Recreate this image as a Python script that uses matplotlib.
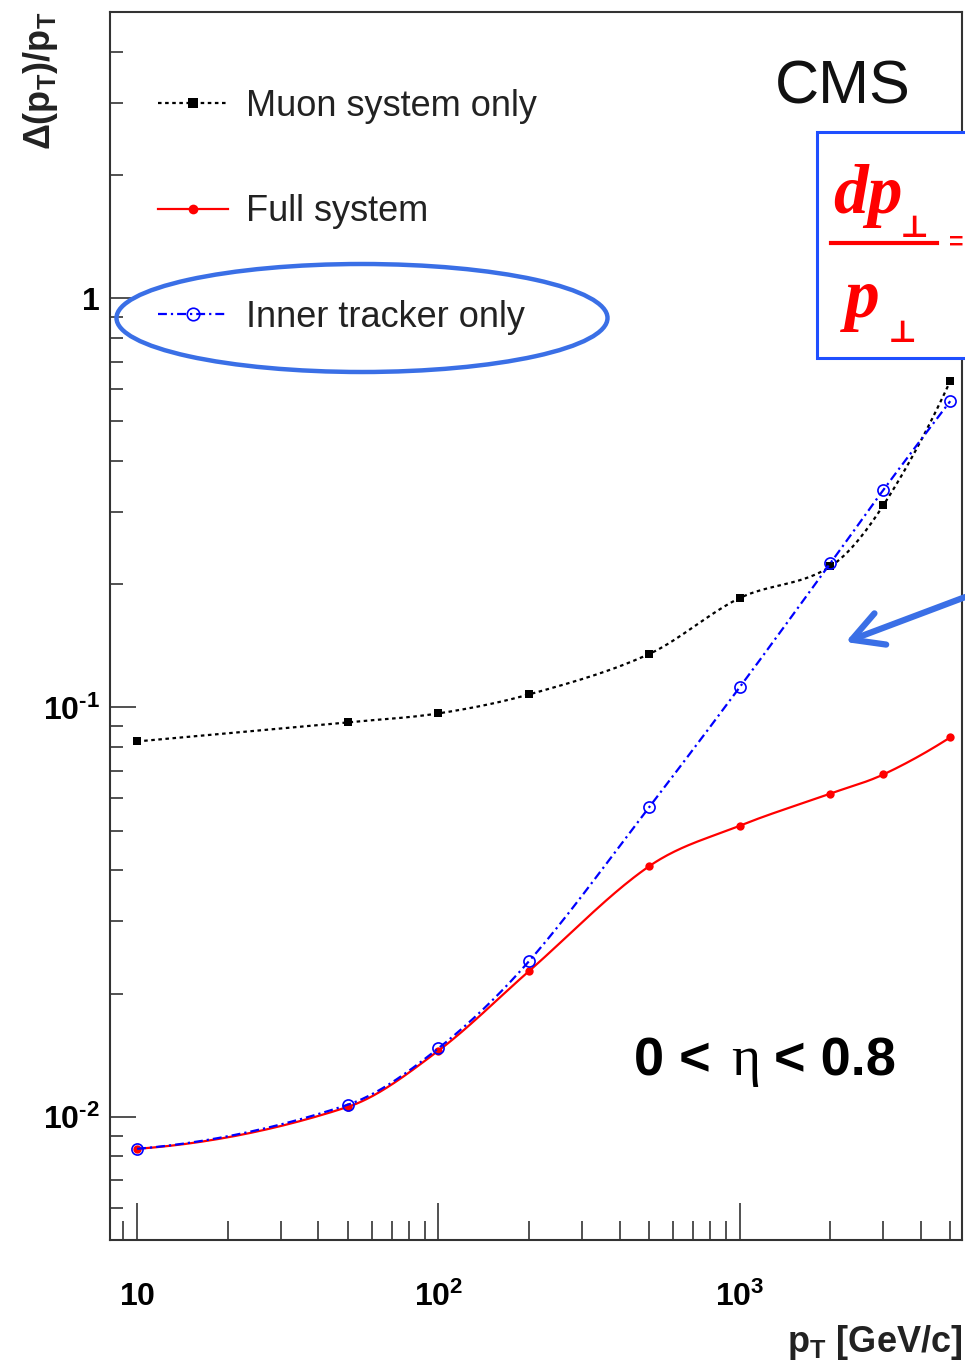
import numpy as np
import matplotlib
matplotlib.use("Agg")
import matplotlib.pyplot as plt
from matplotlib.lines import Line2D
from matplotlib.patches import Ellipse, Rectangle
from matplotlib.ticker import NullFormatter, FixedLocator, LogLocator

plt.rcParams['font.family'] = ['Liberation Sans', 'DejaVu Sans']
plt.rcParams['mathtext.fontset'] = 'custom'
plt.rcParams['mathtext.rm'] = 'Liberation Sans:bold'
plt.rcParams['mathtext.bf'] = 'Liberation Sans:bold'
plt.rcParams['mathtext.it'] = 'Liberation Sans:bold:italic'

# data
pt = [10, 50, 100, 200, 500, 1000, 2000, 3000, 5000]
muon_only = [0.0826, 0.092, 0.0967, 0.1076, 0.135, 0.185, 0.221, 0.312, 0.627]
full_system = [0.00835, 0.01057, 0.0145, 0.0227, 0.0409, 0.0514, 0.0616, 0.0686, 0.0845]
inner_tracker = [0.00835, 0.0107, 0.0147, 0.0240, 0.0570, 0.112, 0.225, 0.340, 0.560]

series_names = ['Muon system only', 'Full system', 'Inner tracker only']
x_ticks = [10, 100, 1000]
x_ticklabels = ['$10$', '$10^{2}$', '$10^{3}$']
y_ticks = [0.01, 0.1, 1]
y_ticklabels = ['$10^{\\text{-}2}$', '$10^{\\text{-}1}$', '$1$']

W, H = 965, 1365


def fp(x, y):
    # picture pixels -> figure fraction
    return x / W, 1 - y / H


def smooth(x, y, n=40):
    # cubic hermite through the points in log-log space, just for drawing
    lx, ly = np.log10(x), np.log10(y)
    k = len(lx)
    d = np.diff(ly) / np.diff(lx)
    m = np.zeros(k)
    for i in range(1, k - 1):
        m[i] = (ly[i + 1] - ly[i - 1]) / (lx[i + 1] - lx[i - 1])
    m[0] = 2 * d[0] - m[1]
    m[-1] = 2 * d[-1] - m[-2]
    xs, ys = [], []
    for i in range(k - 1):
        h = lx[i + 1] - lx[i]
        t = np.linspace(0, 1, n)
        h00 = 2 * t**3 - 3 * t**2 + 1
        h10 = t**3 - 2 * t**2 + t
        h01 = -2 * t**3 + 3 * t**2
        h11 = t**3 - t**2
        xs.append(lx[i] + t * h)
        ys.append(h00 * ly[i] + h10 * h * m[i] + h01 * ly[i + 1] + h11 * h * m[i + 1])
    return 10**np.concatenate(xs), 10**np.concatenate(ys)


fig = plt.figure(figsize=(W / 100, H / 100), dpi=100)
ax = fig.add_axes([110 / W, 1 - 1240 / H, (962 - 110) / W, (1240 - 12) / H])
ax.set_xscale('log')
ax.set_yscale('log')
ax.set_xlim(8.13, 5470)
ax.set_ylim(0.005, 5.0)

styles = [
    dict(color='black', ls=(0, (1.6, 1.6)), marker='s', ms=6, mfc='black', mew=0),
    dict(color='#ff0000', ls='-', marker='o', ms=6, mfc='#ff0000', mew=0),
    dict(color='#0000ff', ls=(0, (4, 1.8, 1, 1.8)), marker='o', ms=8, mfc='none', mew=1.2),
]
handles = []
for vals, st, name in zip([muon_only, full_system, inner_tracker], styles, series_names):
    sx, sy = smooth(pt, vals)
    ax.plot(sx, sy, color=st['color'], ls=st['ls'], lw=1.6)
    ax.plot(pt, vals, ls='none', marker=st['marker'], ms=st['ms'],
            mfc=st['mfc'], mec=st['color'], mew=st['mew'])
    handles.append(Line2D([], [], color=st['color'], ls=st['ls'], lw=1.6,
                          marker=st['marker'], ms=st['ms'] + 1, mfc=st['mfc'],
                          mec=st['color'], mew=st['mew'], label=name))

for s in ax.spines.values():
    s.set_linewidth(1.5)
    s.set_color('#333333')

ax.xaxis.set_major_locator(FixedLocator(x_ticks))
ax.set_xticklabels(x_ticklabels)
ax.xaxis.set_minor_locator(LogLocator(base=10, subs=np.arange(2, 10)))
ax.xaxis.set_minor_formatter(NullFormatter())
ax.yaxis.set_major_locator(FixedLocator(y_ticks))
ax.set_yticklabels(y_ticklabels)
ax.yaxis.set_minor_locator(LogLocator(base=10, subs=np.arange(2, 10)))
ax.yaxis.set_minor_formatter(NullFormatter())

ax.tick_params(axis='x', which='major', direction='in', length=26.5, width=1.1,
               labelsize=23, pad=30, color='#222222')
ax.tick_params(axis='x', which='minor', direction='in', length=13.5, width=1.1, color='#222222')
ax.tick_params(axis='y', which='major', direction='in', length=18.5, width=1.1,
               labelsize=23, pad=7, color='#222222')
ax.tick_params(axis='y', which='minor', direction='in', length=9.5, width=1.1, color='#222222')

leg = ax.legend(handles=handles, loc='upper left', bbox_to_anchor=fp(158, 89),
                bbox_transform=fig.transFigure, frameon=False, fontsize=26,
                handlelength=1.95, handletextpad=0.5, labelspacing=1.95,
                borderpad=0, borderaxespad=0, numpoints=1)
for t in leg.get_texts():
    t.set_color('#222222')

# axis titles
fig.text(*fp(40, 12), 'Δ(p$_{\\rm T}$)/p$_{\\rm T}$', rotation=90, ha='center', va='top',
         fontsize=26, fontweight='bold', color='#222222')
fig.text(*fp(962, 1352), 'p$_{\\rm T}$ [GeV/c]', ha='right', va='baseline',
         fontsize=26, fontweight='bold', color='#222222')

fig.text(*fp(775, 103), 'CMS', fontsize=44, va='baseline', color='#111111')

# eta range label
fig.text(*fp(634, 1075), '0 <', fontsize=39, fontweight='bold', va='baseline')
fig.text(*fp(731, 1075), 'η', fontsize=40, family=['Liberation Serif', 'DejaVu Serif'], va='baseline')
fig.text(*fp(774, 1075), '< 0.8', fontsize=39, fontweight='bold', va='baseline')

# highlight around the inner tracker entry
ell = Ellipse(fp(362, 318), 491 / W, 108 / H, transform=fig.transFigure,
              fill=False, lw=3.2, ec='#3a6fe6')
fig.add_artist(ell)

# formula box
box = Rectangle(fp(817, 358), 200 / W, (358 - 132) / H, transform=fig.transFigure,
                fill=True, fc='white', ec='#1f4fff', lw=2.2, zorder=5)
fig.add_artist(box)
serif = ['Liberation Serif', 'DejaVu Serif']
red = '#ff0000'
fig.text(*fp(833, 213), 'dp', fontsize=50, family=serif, fontweight='bold', style='italic',
         color=red, va='baseline', zorder=6)
fig.text(*fp(900, 237), '⊥', fontsize=22, family=['DejaVu Serif'], fontweight='bold',
         color=red, va='baseline', zorder=6)
fig.add_artist(Line2D([831 / W, 937 / W], [1 - 243 / H] * 2, transform=fig.transFigure,
                      color=red, lw=3, zorder=6))
fig.text(*fp(845, 317), 'p', fontsize=50, family=serif, fontweight='bold', style='italic',
         color=red, va='baseline', zorder=6)
fig.text(*fp(888, 342), '⊥', fontsize=22, family=['DejaVu Serif'], fontweight='bold',
         color=red, va='baseline', zorder=6)
fig.text(*fp(949, 243), '=', fontsize=18, fontweight='bold', color=red, va='center', zorder=6)

# arrow pointing at the curves
fig.add_artist(matplotlib.patches.FancyArrowPatch(
    fp(968, 596), fp(843, 643), transform=fig.transFigure,
    arrowstyle='->,head_length=22,head_width=12', lw=4.5, color='#3a6fe6',
    mutation_scale=1, zorder=6))

fig.savefig('out.png', dpi=100)
